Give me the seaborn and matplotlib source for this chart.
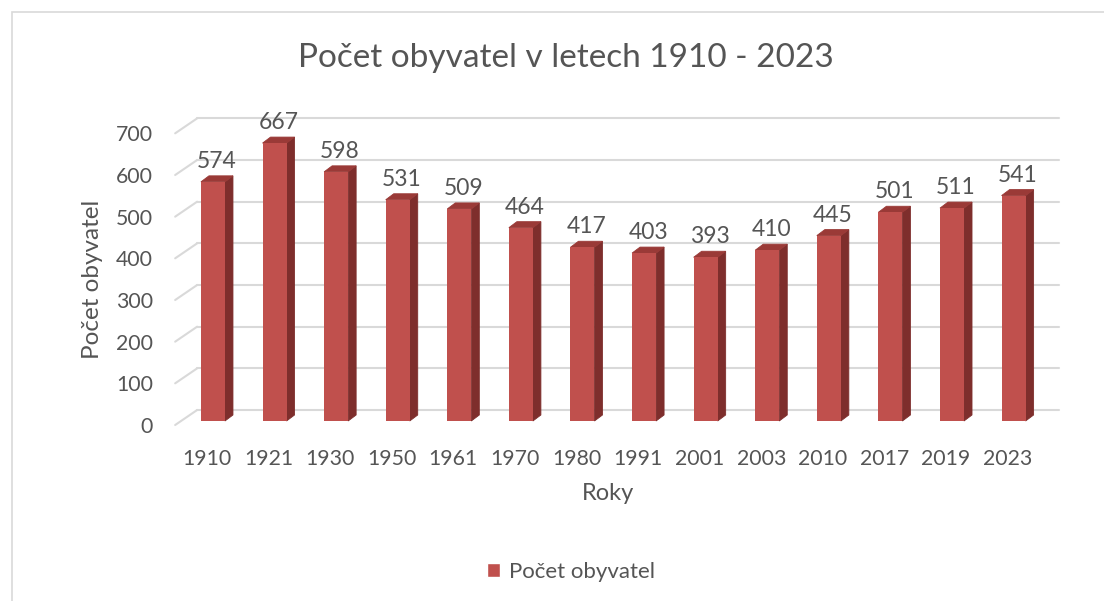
import matplotlib
matplotlib.use("Agg")
import matplotlib.pyplot as plt
import matplotlib.transforms as mtransforms
from matplotlib.patches import Polygon, Rectangle, Patch
import seaborn as sns

# data
roky = ["1910", "1921", "1930", "1950", "1961", "1970", "1980",
        "1991", "2001", "2003", "2010", "2017", "2019", "2023"]
obyvatel = [574, 667, 598, 531, 509, 464, 417, 403, 393, 410, 445, 501, 511, 541]
y_ticks = [0, 100, 200, 300, 400, 500, 600, 700]

CERVENA = "#C0504D"
BOK = "#7E2E2C"
VRCH = "#9A3A37"
TEXT = "#555555"
MRIZKA = "#D9D9D9"

sns.set_style("white")
plt.rcParams["font.family"] = ["Lato", "DejaVu Sans"]

fig = plt.figure(figsize=(11.04, 6.01), dpi=100)
ax = fig.add_axes([0.165, 0.2995, 0.781, 0.4853])

sns.barplot(x=roky, y=obyvatel, color=CERVENA, saturation=1, width=0.39,
            linewidth=0, ax=ax, zorder=3)
ax.set_xlim(-0.5, len(roky) - 0.5)
ax.set_ylim(0, 700)
sns.despine(ax=ax, left=True, bottom=True)

# prevod pixelu na jednotky dat
sx = ax.bbox.width / (len(roky))
sy = ax.bbox.height / 700
hloubka_x, hloubka_y = 8 / sx, 6 / sy

# 3D boky a vrchy sloupcu
for p in ax.patches[:]:
    x, w, h = p.get_x(), p.get_width(), p.get_height()
    bok = Polygon([(x + w, 0), (x + w + hloubka_x, hloubka_y),
                   (x + w + hloubka_x, h + hloubka_y), (x + w, h)],
                  closed=True, facecolor=BOK, edgecolor=BOK, lw=0.6, zorder=2.9,
                  clip_on=False)
    vrch = Polygon([(x, h), (x + hloubka_x, h + hloubka_y),
                    (x + w + hloubka_x, h + hloubka_y), (x + w, h)],
                   closed=True, facecolor=VRCH, edgecolor=VRCH, lw=0.6, zorder=2.9,
                   clip_on=False)
    ax.add_patch(bok)
    ax.add_patch(vrch)
    ax.annotate(f"{int(h)}", (x + w / 2 + hloubka_x / 2, h), xytext=(0, 10),
                textcoords="offset points", ha="center", va="baseline",
                fontsize=16.5, color=TEXT, zorder=4)

# mrizka na zadni stene + sikme cary na leve stene
zadni = mtransforms.offset_copy(ax.transData, fig=fig, x=0, y=11, units="dots")
predni = mtransforms.offset_copy(ax.transData, fig=fig, x=0, y=-4, units="dots")
x_zac = -0.5 + 15 / sx
x_kon = len(roky) - 0.5 + 15 / sx
for v in y_ticks:
    ax.plot([x_zac, x_kon], [v, v], color=MRIZKA, lw=1.5, transform=zadni,
            zorder=1, clip_on=False)
    p0 = predni.transform((-0.5 - 7 / sx, v))
    p1 = zadni.transform((x_zac, v))
    ax.plot([p0[0], p1[0]], [p0[1], p1[1]], color=MRIZKA, lw=1.5,
            transform=None, zorder=1, clip_on=False)

ax.set_yticks(y_ticks)
ax.tick_params(axis="both", length=0, labelsize=15.3, labelcolor=TEXT)
ax.tick_params(axis="y", pad=21)
ax.tick_params(axis="x", pad=20)
posun_y = mtransforms.ScaledTranslation(0, -4 / 100, fig.dpi_scale_trans)
for lab in ax.get_yticklabels():
    lab.set_transform(lab.get_transform() + posun_y)
posun_x = mtransforms.ScaledTranslation(-6 / 100, 0, fig.dpi_scale_trans)
for lab in ax.get_xticklabels():
    lab.set_transform(lab.get_transform() + posun_x)

ax.set_xlabel("Roky", fontsize=17, color=TEXT)
ax.set_ylabel("Počet obyvatel", fontsize=17.5, color=TEXT)
ax.xaxis.label.set_va("center")
ax.yaxis.label.set_va("center")
ax.xaxis.set_label_coords(0.494, -0.247)
ax.yaxis.set_label_coords(-0.1035, 0.485)

fig.text(566 / 1104, 1 - 58 / 601, "Počet obyvatel v letech 1910 - 2023",
         ha="center", va="center", fontsize=24, color=TEXT)

fig.legend(handles=[Patch(facecolor=CERVENA, label="Počet obyvatel")],
           loc="center", bbox_to_anchor=(571 / 1104, 1 - 572 / 601), frameon=False,
           fontsize=16, labelcolor=TEXT, handlelength=0.6, handleheight=0.6,
           handletextpad=0.4)

# okraj grafu
fig.patches.append(Rectangle((12 / 1104, -0.1), 1.2, 1.1 - 12 / 601, fill=False,
                             edgecolor=MRIZKA, lw=1.2, transform=fig.transFigure))

fig.savefig("out.png", dpi=100)
